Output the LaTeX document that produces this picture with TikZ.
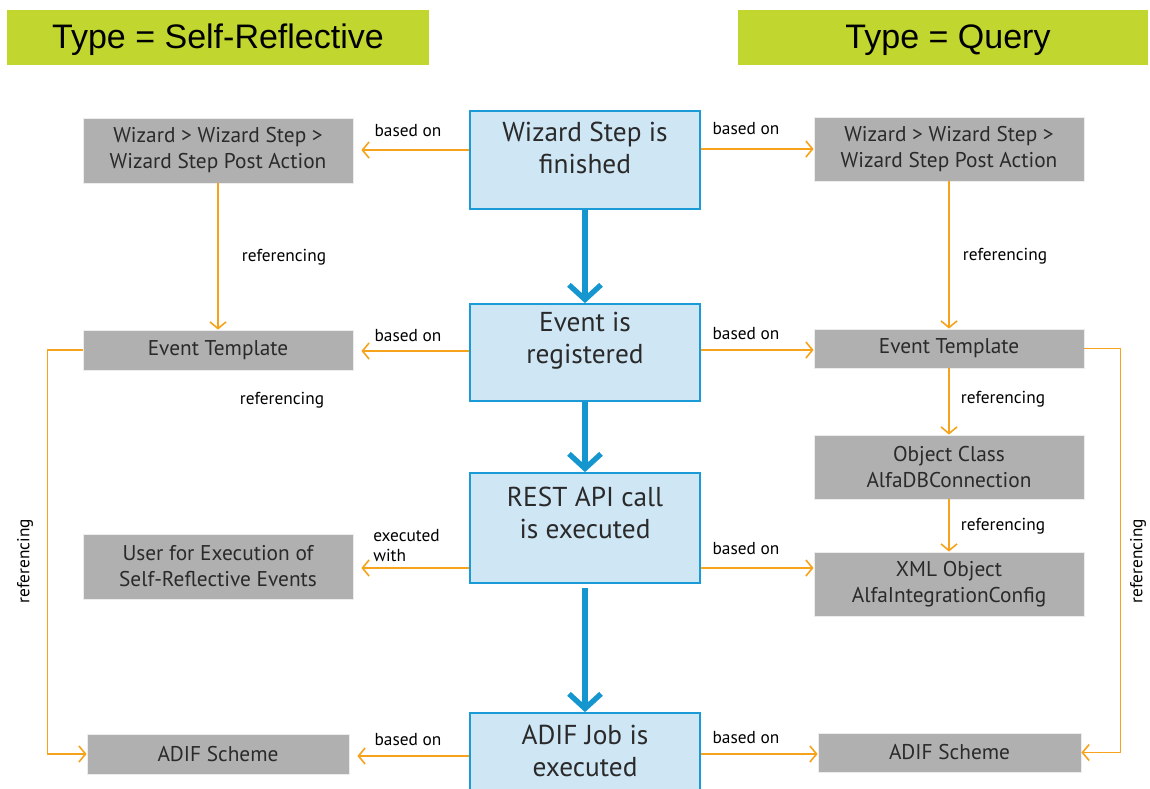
\documentclass[tikz,border=0pt]{standalone}
\usepackage{fontspec}
\setmainfont{PT Sans}
\newfontfamily\headfont{Liberation Sans}
\usetikzlibrary{arrows.meta}
\definecolor{hdrgreen}{HTML}{C1D72F}
\definecolor{boxgray}{HTML}{B0B0B0}
\definecolor{cfill}{HTML}{CFE6F5}
\definecolor{cborder}{HTML}{1A9AD6}
\definecolor{arrblue}{HTML}{1596CF}
\definecolor{orng}{HTML}{F7A21B}
\definecolor{txtgray}{HTML}{2A2A2A}
\tikzset{
  sz/.style 2 args={minimum width={#1*0.75pt}, minimum height={#2*0.75pt}},
  hdr/.style={fill=hdrgreen, draw=none, inner sep=0pt, text=black, font=\headfont\fontsize{25.5}{30}\selectfont},
  gbox/.style={fill=boxgray, draw=white!85!gray, line width=0.6pt, inner sep=0pt, align=center, text=txtgray, font=\fontsize{16}{19.5}\selectfont},
  cbox/.style={fill=cfill, draw=cborder, line width=1.3pt, inner sep=0pt},
  ctext/.style={align=center, text=txtgray, inner sep=0pt, font=\fontsize{20.5}{24}\selectfont},
  lbl/.style={inner sep=0pt, text=black, font=\fontsize{13}{15}\selectfont},
  oarr/.style={draw=orng, line width=1.2pt, -{Straight Barb[length=5pt,width=12pt,line width=1.2pt]}},
  barr/.style={draw=arrblue, line width=4pt, -{Straight Barb[length=11pt,width=24pt,line width=4pt]}},
}
\begin{document}
\begin{tikzpicture}[x=0.75pt,y=-0.75pt]
\useasboundingbox (0,0) rectangle (1150,789);
\clip (0,0) rectangle (1150,789);
% headers
\node[hdr, sz={422}{55}] (h1) at (218,37.5) {};
\node[hdr, fill=none] (h1t) at (218,40) {Type = Self-Reflective};
\node[hdr, sz={410}{55}] (h2) at (943,37.5) {};
\node[hdr, fill=none] (h2t) at (948,40) {Type = Query};
% centre boxes
\node[cbox, sz={230}{98}] (c1) at (585,160) {};
\node[ctext] (c1t) at (585,148) {Wizard Step is\\finished};
\node[cbox, sz={230}{97}] (c2) at (585,352.5) {};
\node[ctext] (c2t) at (585,341) {Event is\\registered};
\node[cbox, sz={230}{110}] (c3) at (585,528) {};
\node[ctext] (c3t) at (585,513) {REST API call\\is executed};
\node[cbox, sz={230}{100}] (c4) at (585,763) {};
\node[ctext] (c4t) at (585,751) {ADIF Job is\\executed};
% left boxes
\node[gbox, sz={270}{65}] (lw) at (218,150.5) {Wizard > Wizard Step >\\Wizard Step Post Action};
\node[gbox, sz={270}{40}] (let) at (218,350) {Event Template};
\node[gbox, sz={270}{65}] (lu) at (218,566.5) {User for Execution of\\Self-Reflective Events};
\node[gbox, sz={262}{40}] (lad) at (218,754) {ADIF Scheme};
% right boxes
\node[gbox, sz={270}{64}] (rw) at (949,149) {Wizard > Wizard Step >\\Wizard Step Post Action};
\node[gbox, sz={270}{39}] (ret) at (949,348.5) {Event Template};
\node[gbox, sz={270}{64}] (roc) at (949,467) {Object Class\\AlfaDBConnection};
\node[gbox, sz={270}{64}] (rxml) at (949,584) {XML Object\\AlfaIntegrationConfig};
\node[gbox, sz={263}{39}] (rad) at (949.5,752.5) {ADIF Scheme};
% helper coordinates
\coordinate (y150) at (0,150);
\coordinate (y149) at (0,149);
\coordinate (y351) at (0,351);
\coordinate (y350) at (0,350);
\coordinate (y568) at (0,568);
\coordinate (y756) at (0,756);
\coordinate (y754) at (0,754);
% blue arrows
\draw[barr] (c1.south) -- (c2.north);
\draw[barr] (c2.south) -- (c3.north);
\draw[barr] ([yshift=-3pt]c3.south) -- (c4.north);
% orange left
\draw[oarr, shorten >=6pt] (c1.west |- y150) -- (lw.east |- y150);
\draw[oarr, shorten >=6pt] (c2.west |- y351) -- (let.east |- y351);
\draw[oarr, shorten >=6pt] (c3.west |- y568) -- (lu.east |- y568);
\draw[oarr, shorten >=6pt] (c4.west |- y756) -- (lad.east |- y756);
% orange right
\draw[oarr] (c1.east |- y149) -- (rw.west |- y149);
\draw[oarr] (c2.east |- y350) -- (ret.west |- y350);
\draw[oarr] (c3.east |- y568) -- (rxml.west |- y568);
\draw[oarr] (c4.east |- y754) -- (rad.west |- y754);
% verticals
\draw[oarr] (lw.south) -- (let.north);
\draw[oarr] (rw.south) -- (ret.north);
\draw[oarr] (ret.south) -- (roc.north);
\draw[oarr] (roc.south) -- (rxml.north);
% loops
\draw[oarr] (let.west) -- ++(-35,0) |- (lad.west);
\draw[oarr] (ret.east) -- ++(36,0) |- (rad.east);
% labels
\node[lbl] (l1) at (408,131) {based on};
\node[lbl] (l2) at (408,336) {based on};
\node[lbl, align=left, anchor=west] (l3) at (373,546) {executed\\with};
\node[lbl] (l4) at (408,740) {based on};
\node[lbl] (r1) at (746,129) {based on};
\node[lbl] (r2) at (746,334) {based on};
\node[lbl] (r3) at (746,549) {based on};
\node[lbl] (r4) at (746,738) {based on};
\node[lbl] (lr1) at (284,257) {referencing};
\node[lbl] (lr2) at (282,400) {referencing};
\node[lbl] (rr1) at (1005,256) {referencing};
\node[lbl] (rr2) at (1003,399) {referencing};
\node[lbl] (rr3) at (1003,526) {referencing};
\node[lbl, rotate=90] (lv) at (25,561) {referencing};
\node[lbl, rotate=90] (rv) at (1138,561) {referencing};
\end{tikzpicture}
\end{document}
